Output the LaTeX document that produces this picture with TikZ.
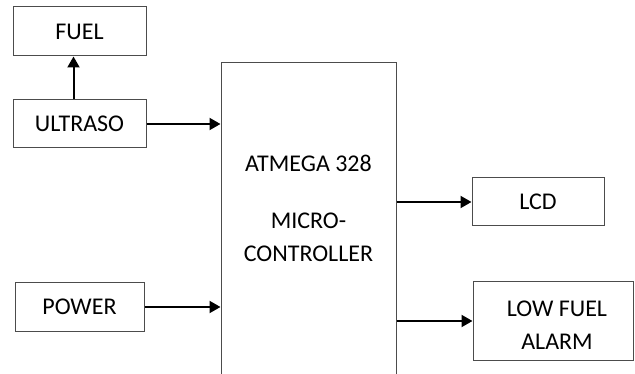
\documentclass[tikz,border=0pt]{standalone}
\usepackage{fontspec}
\setmainfont{Carlito}
\usetikzlibrary{arrows.meta}

\tikzset{
  block/.style={
    draw=black!70,
    line width=1pt,
    inner sep=0pt,
    align=center,
    font=\fontsize{24}{34}\selectfont
  },
  caption/.style={
    inner sep=0pt,
    align=center,
    font=\fontsize{24}{33}\selectfont
  },
  link/.style={
    line width=2pt,
    -{Triangle[length=11pt,width=12pt]}
  }
}

\begin{document}
\begin{tikzpicture}[x=1pt,y=-1pt]
    \useasboundingbox (0,0) rectangle (635,374);

    % left column
    \node[block, minimum width=133, minimum height=49] (fuel) at (79.5,31.5) {FUEL};
    \node[block, minimum width=133, minimum height=48] (ultra) at (79.5,124) {ULTRASO};
    \node[block, minimum width=129, minimum height=48] (power) at (79.5,307) {POWER};

    % controller, open at the bottom of the page
    \node[block, minimum width=175, minimum height=337] (micro) at (308.5,231.5) {};
    \node[caption] (chip) at (308.5,208)
      {ATMEGA 328\\[24pt]MICRO-\\CONTROLLER};

    % right column
    \node[block, minimum width=132, minimum height=48] (lcd) at (538,202) {LCD};
    \node[block, minimum width=160, minimum height=78] (alarm) at (553,321) {};
    \node[caption] (alarmtext) at (557,325) {LOW FUEL\\ALARM};

    % connections
    \draw[link] ([xshift=-6]ultra.north) -- ([xshift=-6]fuel.south);
    \draw[link] (ultra.east) -- (ultra.east -| micro.west);
    \draw[link] (power.east) -- (power.east -| micro.west);
    \draw[link] (lcd.west -| micro.east) -- (lcd.west);
    \draw[link] (alarm.west -| micro.east) -- (alarm.west);
\end{tikzpicture}
\end{document}
